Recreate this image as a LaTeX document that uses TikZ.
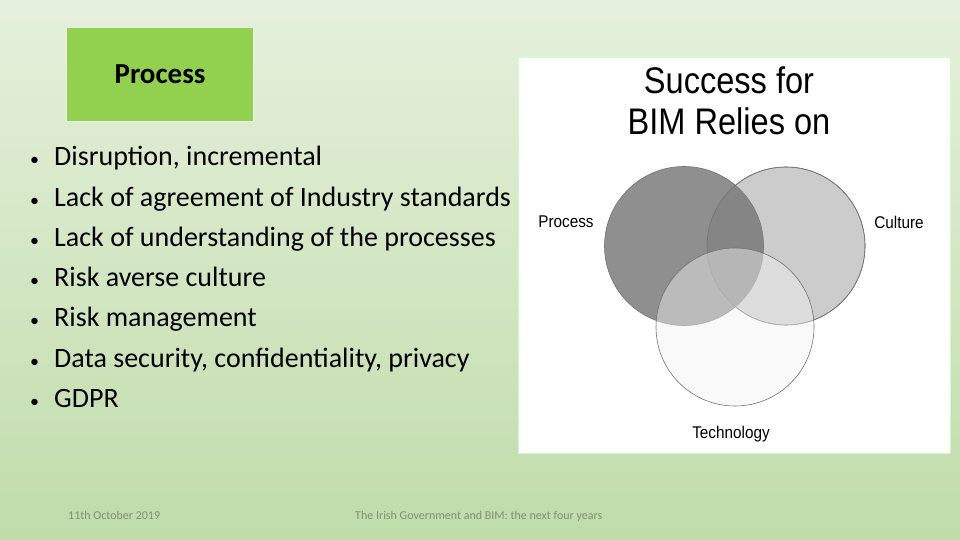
\documentclass[tikz,border=0pt]{standalone}
\usepackage{fontspec}
\setmainfont{Carlito}
\newfontfamily\arialf{Liberation Sans}
\definecolor{bgtop}{HTML}{E6F0DC}
\definecolor{bgbot}{HTML}{C0DCAA}
\definecolor{procgreen}{HTML}{92D050}
\definecolor{foot}{HTML}{7F8F76}
\begin{document}
\begin{tikzpicture}[x=1pt,y=-1pt,
  bullet/.style={anchor=base west,font=\fontsize{28}{32}\selectfont,inner sep=0pt},
  bul/.style={anchor=base west,font=\fontsize{18}{20}\selectfont,inner sep=0pt},
  lbl/.style={font=\arialf\fontsize{17}{20}\selectfont,xscale=0.9},
  foottext/.style={font=\fontsize{12}{14}\selectfont,text=foot,anchor=base west,inner sep=0pt},
  venn/.style={draw=black!55,line width=0.6pt}]
\shade[top color=bgtop,bottom color=bgbot] (0,0) rectangle (960,540);
\useasboundingbox (0,0) rectangle (960,540);
\node[draw=white!85!gray,line width=1pt,fill=procgreen,minimum width=187pt,minimum height=94pt,anchor=north west,font=\bfseries\fontsize{29}{32}\selectfont] (title) at (66,27) {Process};
\foreach \t [count=\i] in {{Disruption, incremental},{Lack of agreement of Industry standards},{Lack of understanding of the processes},{Risk averse culture},{Risk management},{Data security, confidentiality, privacy},{GDPR}}{
  \pgfmathsetmacro\yy{166+40.2*(\i-1)}
  \node[bul] (b\i) at (30,\yy) {\textbullet};
  \node[bullet] (t\i) at (54,\yy) {\t};
}
\node[draw=white!80!green,line width=1pt,fill=white,minimum width=432pt,minimum height=396pt,anchor=north west] (img) at (518,57) {};
\node[font=\arialf\fontsize{37}{40}\selectfont,xscale=0.88,align=center,inner sep=0pt] (head) at (729,101) {Success for\\[1pt]BIM Relies on};
\draw[venn,fill=black!20] (786,246) circle (79);
\draw[venn,fill=black!44] (684,246) circle (79.5);
\begin{scope}\clip (786,246) circle (79); \fill[black!48] (684,246) circle (79.5);\end{scope}
\draw[venn] (786,246) circle (79);
\draw[venn,fill=black!5,fill opacity=0.45] (735,327) circle (79);
\node[lbl] (lp) at (566,222) {Process};
\node[lbl] (lc) at (899,222) {Culture};
\node[lbl] (lt) at (731,434) {Technology};
\node[foottext] (d) at (68,519) {11th October 2019};
\node[foottext] (f) at (355,519) {The Irish Government and BIM: the next four years};
\end{tikzpicture}
\end{document}
